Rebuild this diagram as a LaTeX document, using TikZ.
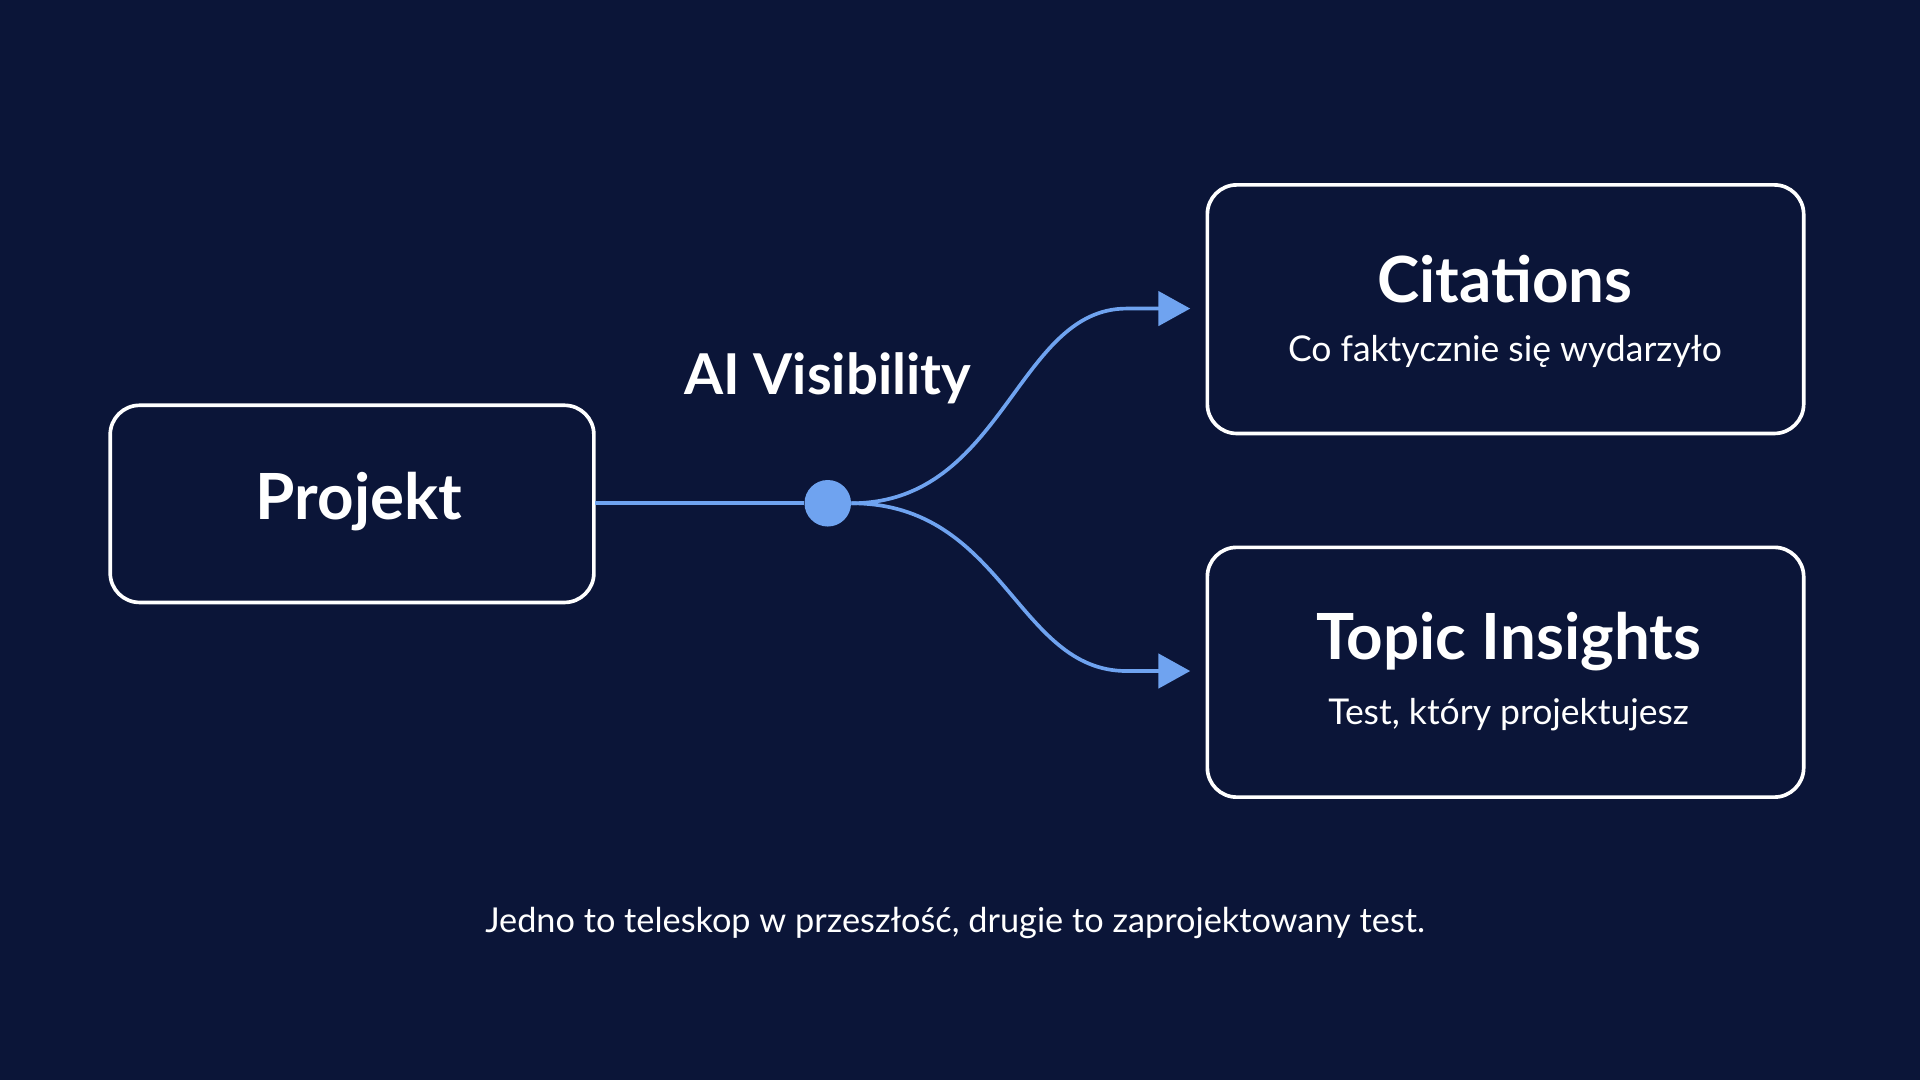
\documentclass[tikz,border=0pt]{standalone}
\usepackage{fontspec}
\setmainfont{Lato}
\usetikzlibrary{arrows.meta}
\definecolor{bg}{HTML}{0B1538}
\definecolor{acc}{HTML}{6FA3F0}
\tikzset{
 box/.style={draw=white,line width=3pt,rounded corners=24pt,fill=bg},
 conn/.style={draw=acc,line width=3pt},
 arr/.style={conn,-{Triangle[length=26pt,width=28pt]}},
 ttl/.style={text=white,font=\bfseries\fontsize{52}{60}\selectfont},
 sub/.style={text=white,font=\fontsize{29}{34}\selectfont},
}
\begin{document}
\begin{tikzpicture}[x=1pt,y=-1pt]
\fill[bg] (0,0) rectangle (1568,882);
\useasboundingbox (0,0) rectangle (1568,882);
\draw[box] (90,331) rectangle (485,492);
\draw[box] (986,151) rectangle (1473,354);
\draw[box] (986,447) rectangle (1473,651);
\coordinate (pr) at (486,411);
\node[circle,fill=acc,minimum size=38pt,inner sep=0] (dot) at (676,411) {};
\coordinate (d1) at (972,252);
\coordinate (d2) at (972,548);
\draw[conn] (pr) -- (dot);
\draw[arr] (dot.east) .. controls (820,411) and (830,252) .. (920,252) -- (d1);
\draw[arr] (dot.east) .. controls (820,411) and (830,548) .. (920,548) -- (d2);
\node[ttl] (p) at (293,410) {Projekt};
\node[ttl,font=\bfseries\fontsize{46}{54}\selectfont] (ai) at (676,309) {AI Visibility};
\node[ttl] (c) at (1229,228) {Citations};
\node[sub] (cs) at (1229,287) {Co faktycznie się wydarzyło};
\node[ttl] (t) at (1232,524) {Topic Insights};
\node[sub] (ts) at (1232,584) {Test, który projektujesz};
\node[sub,font=\fontsize{28}{34}\selectfont] (cap) at (780,754) {Jedno to teleskop w przeszłość, drugie to zaprojektowany test.};
\end{tikzpicture}
\end{document}
